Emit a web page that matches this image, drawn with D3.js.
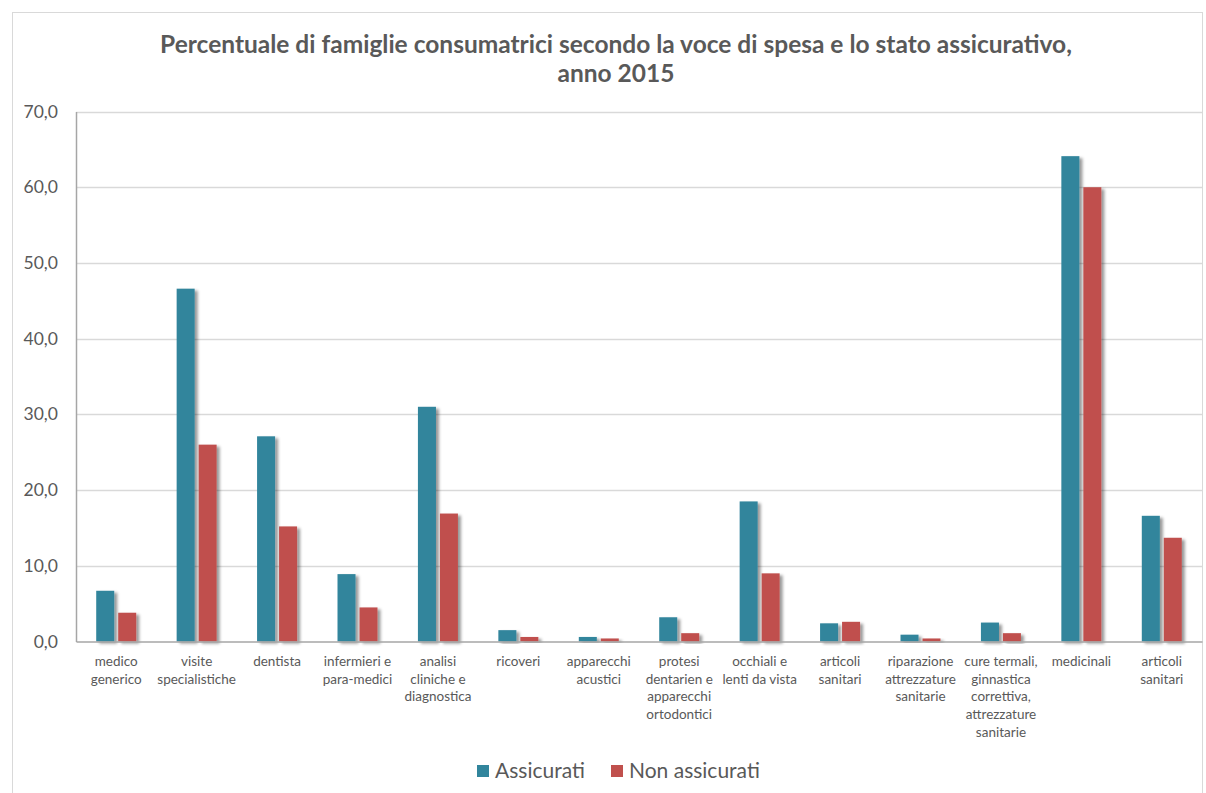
<!DOCTYPE html>
<html>
<head>
<meta charset="utf-8">
<script src="https://cdn.jsdelivr.net/npm/d3@7"></script>
<style>
  html, body { margin: 0; padding: 0; background: #fff; }
  svg { display: block; font-family: Lato, "Open Sans", sans-serif; }
</style>
</head>
<body>
<svg id="chart" width="1206" height="793"></svg>
<script>
// Voci di spesa (a capo con "\n")
const categories = [
  "medico\ngenerico",
  "visite\nspecialistiche",
  "dentista",
  "infermieri e\npara-medici",
  "analisi\ncliniche e\ndiagnostica",
  "ricoveri",
  "apparecchi\nacustici",
  "protesi\ndentarien e\napparecchi\nortodontici",
  "occhiali e\nlenti da vista",
  "articoli\nsanitari",
  "riparazione\nattrezzature\nsanitarie",
  "cure termali,\nginnastica\ncorrettiva,\nattrezzature\nsanitarie",
  "medicinali",
  "articoli\nsanitari"
];
const seriesNames = ["Assicurati", "Non assicurati"];
const assicurati    = [6.7, 46.6, 27.1, 8.9, 31.0, 1.5, 0.6, 3.2, 18.5, 2.4, 0.9, 2.5, 64.1, 16.6];
const nonAssicurati = [3.8, 26.0, 15.2, 4.5, 16.9, 0.6, 0.4, 1.1, 9.0, 2.6, 0.4, 1.1, 60.0, 13.7];
const yTicks = [0, 10, 20, 30, 40, 50, 60, 70];
const titleLines = [
  "Percentuale di famiglie consumatrici secondo la voce di spesa e lo stato assicurativo,",
  "anno 2015"
];
const colors = ["#31859C", "#C0504D"];

const svg = d3.select("#chart");
const textColor = "#595959";

// shadow under the bars
const defs = svg.append("defs");
const f = defs.append("filter").attr("id", "barShadow")
  .attr("x", "-30%").attr("y", "-10%").attr("width", "180%").attr("height", "130%");
f.append("feDropShadow").attr("dx", 3).attr("dy", 2).attr("stdDeviation", 1.8)
  .attr("flood-color", "#000").attr("flood-opacity", 0.4);

// chart frame
svg.append("rect").attr("x", 12.5).attr("y", 12.5).attr("width", 1190).attr("height", 800)
  .attr("fill", "none").attr("stroke", "#d9d9d9").attr("stroke-width", 1);

// title
svg.append("g").selectAll("text").data(titleLines).join("text")
  .attr("x", 616).attr("y", (d, i) => 53 + i * 29)
  .attr("text-anchor", "middle")
  .attr("font-size", 24.5).attr("font-weight", "bold")
  .attr("fill", textColor)
  .text(d => d);

const plot = { left: 76, right: 1202, top: 111.5, bottom: 641.5 };

const y = d3.scaleLinear().domain([0, 70]).range([plot.bottom, plot.top]);
const x0 = d3.scaleBand().domain(d3.range(categories.length)).range([plot.left, plot.right]).padding(0);
const x1 = d3.scaleBand().domain(seriesNames).range([0, x0.bandwidth()])
  .paddingInner(0.18).paddingOuter(0.92);

// gridlines
svg.append("g").selectAll("line").data(yTicks.filter(t => t > 0)).join("line")
  .attr("x1", plot.left).attr("x2", plot.right)
  .attr("y1", d => Math.round(y(d)) + 0.5).attr("y2", d => Math.round(y(d)) + 0.5)
  .attr("stroke", "#d9d9d9").attr("stroke-width", 1.3);

// y axis
const yAxis = d3.axisLeft(y).tickValues(yTicks).tickSize(0).tickPadding(18)
  .tickFormat(d => d3.format(".1f")(d).replace(".", ","));
const gy = svg.append("g").attr("transform", `translate(${plot.left},0)`).call(yAxis);
gy.select(".domain").attr("stroke", "#a6a6a6").attr("stroke-width", 1.5);
gy.selectAll("text").attr("font-size", 17.5).attr("fill", textColor).attr("font-family", "Lato, sans-serif");

// bars
const rows = categories.map((c, i) => ({ i, values: [assicurati[i], nonAssicurati[i]] }));
const groups = svg.append("g").selectAll("g").data(rows).join("g")
  .attr("transform", d => `translate(${x0(d.i)},0)`);
groups.selectAll("rect").data(d => d.values.map((v, k) => ({ v, k }))).join("rect")
  .attr("x", d => x1(seriesNames[d.k]))
  .attr("width", x1.bandwidth())
  .attr("y", d => y(d.v))
  .attr("height", d => y(0) - y(d.v))
  .attr("fill", d => colors[d.k])
  .attr("filter", "url(#barShadow)");

// x axis
const xAxis = d3.axisBottom(x0).tickSize(0).tickFormat("");
const gx = svg.append("g").attr("transform", `translate(0,${plot.bottom})`).call(xAxis);
gx.select(".domain").attr("stroke", "#a6a6a6").attr("stroke-width", 1.5);

// category labels
const lbl = svg.append("g").selectAll("text").data(categories.map((c, i) => ({ c, i }))).join("text")
  .attr("text-anchor", "middle")
  .attr("font-size", 13.5).attr("fill", textColor)
  .attr("transform", d => `translate(${x0(d.i) + x0.bandwidth() / 2},666)`);
lbl.selectAll("tspan").data(d => d.c.split("\n")).join("tspan")
  .attr("x", 0).attr("y", (d, i) => i * 17.7)
  .text(d => d);

// legend
const legend = svg.append("g").attr("transform", "translate(477,765)");
const legendX = [0, 134];
const li = legend.selectAll("g").data(seriesNames).join("g")
  .attr("transform", (d, i) => `translate(${legendX[i]},0)`);
li.append("rect").attr("width", 12).attr("height", 12).attr("y", 0)
  .attr("fill", (d, i) => colors[i]);
li.append("text").attr("x", 18).attr("y", 13)
  .attr("font-size", 21).attr("fill", textColor)
  .text(d => d);
</script>
</body>
</html>
